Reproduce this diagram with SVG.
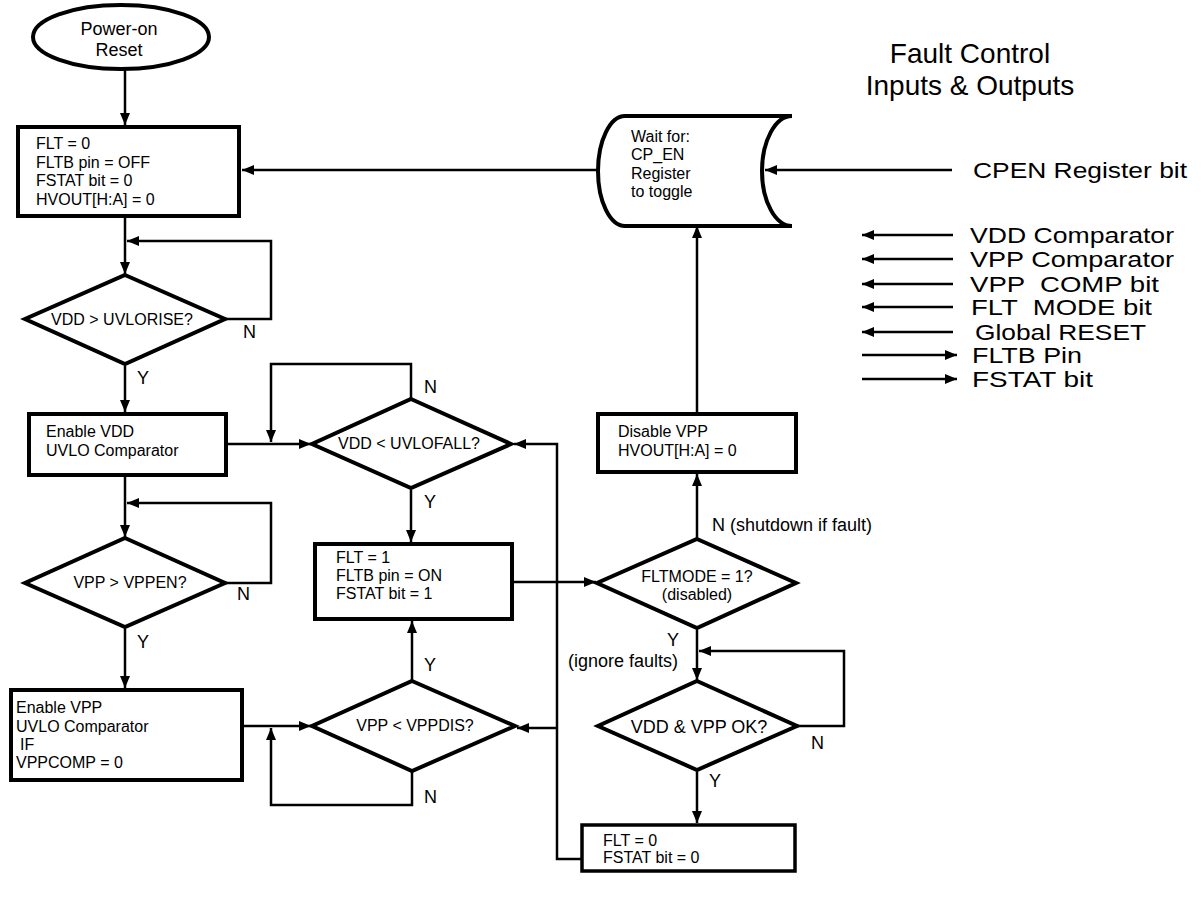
<svg xmlns="http://www.w3.org/2000/svg" width="1201" height="899" viewBox="0 0 1201 899">
<defs>
<style>
text{font-family:"Liberation Sans",Arial,sans-serif;fill:#000}
.t16{font-size:16px}
.t18{font-size:18px}
.lbl{font-size:18px}
.leg{font-size:22px}
.ttl{font-size:28px}
.node{fill:#fff;stroke:#000;stroke-width:4}
.dia{fill:#fff;stroke:#000;stroke-width:4;stroke-linejoin:miter}
.c{fill:none;stroke:#000;stroke-width:2.5}
.ca{fill:none;stroke:#000;stroke-width:2.5;marker-end:url(#ah)}
.mid{text-anchor:middle}
</style>
<marker id="ah" markerUnits="userSpaceOnUse" markerWidth="13" markerHeight="11" refX="12" refY="5" orient="auto">
<path d="M0,0 L12,5 L0,10 z" fill="#000"/>
</marker>
</defs>
<rect width="1201" height="899" fill="#fff"/>

<g id="connectors">
<line class="ca" x1="125" y1="70" x2="125" y2="125"/>
<line class="ca" x1="598" y1="170" x2="242" y2="170"/>
<line class="ca" x1="125" y1="218" x2="125" y2="274"/>
<polyline class="ca" points="225,319 271,319 271,241 127,241"/>
<line class="ca" x1="125" y1="366" x2="125" y2="412"/>
<line class="ca" x1="228" y1="444" x2="311" y2="444"/>
<polyline class="ca" points="411,399 411,364 271,364 271,442"/>
<line class="ca" x1="125" y1="477" x2="125" y2="537"/>
<polyline class="ca" points="225,583 271,583 271,503 127,503"/>
<line class="ca" x1="125" y1="629" x2="125" y2="688"/>
<line class="ca" x1="244" y1="726" x2="311" y2="726"/>
<polyline class="ca" points="412,771 412,805 271,805 271,728"/>
<line class="ca" x1="412" y1="680" x2="412" y2="621"/>
<line class="ca" x1="411" y1="490" x2="411" y2="542"/>
<line class="ca" x1="514" y1="582" x2="596" y2="582"/>
<line class="ca" x1="697" y1="538" x2="697" y2="474"/>
<line class="ca" x1="697" y1="412" x2="697" y2="226"/>
<line class="ca" x1="697" y1="630" x2="697" y2="680"/>
<polyline class="ca" points="797,726 844,726 844,651 699,651"/>
<line class="ca" x1="697" y1="772" x2="697" y2="823"/>
<polyline class="ca" points="588,859 557,859 557,444 514,444"/>
<line class="ca" x1="557" y1="728" x2="517" y2="728"/>
<line class="ca" x1="952" y1="170" x2="765" y2="170"/>
</g>

<g id="por">
<ellipse class="node" cx="121" cy="37" rx="88" ry="32"/>
<text class="t18 mid" x="119" y="35">Power-on</text>
<text class="t18 mid" x="119" y="56">Reset</text>
</g>

<g id="init">
<rect class="node" x="18" y="127" width="221" height="89"/>
<text class="t16" x="36" y="149">FLT = 0</text>
<text class="t16" x="36" y="168">FLTB pin = OFF</text>
<text class="t16" x="36" y="186">FSTAT bit = 0</text>
<text class="t16" x="36" y="205">HVOUT[H:A] = 0</text>
</g>

<g id="d-uvlorise">
<polygon class="dia" points="125,275 225,319 125,364 25,319"/>
<text class="t16 mid" x="122" y="325">VDD &gt; UVLORISE?</text>
<text class="lbl" x="243" y="338">N</text>
<text class="lbl" x="137" y="384">Y</text>
</g>

<g id="en-vdd">
<rect class="node" x="29" y="414" width="197" height="61"/>
<text class="t16" x="46" y="437">Enable VDD</text>
<text class="t16" x="46" y="456">UVLO Comparator</text>
</g>

<g id="d-uvlofall">
<polygon class="dia" points="411,399 511,444 411,488 312,444"/>
<text class="t16 mid" x="409" y="449">VDD &lt; UVLOFALL?</text>
<text class="lbl" x="424" y="393">N</text>
<text class="lbl" x="424" y="508">Y</text>
</g>

<g id="d-vppen">
<polygon class="dia" points="125,538 225,583 125,627 25,583"/>
<text class="t16 mid" x="130" y="588">VPP &gt; VPPEN?</text>
<text class="lbl" x="237" y="600">N</text>
<text class="lbl" x="137" y="648">Y</text>
</g>

<g id="en-vpp">
<rect class="node" x="11" y="690" width="231" height="90"/>
<text class="t16" x="16" y="713">Enable VPP</text>
<text class="t16" x="16" y="732">UVLO Comparator</text>
<text class="t16" x="20" y="750">IF</text>
<text class="t16" x="16" y="768">VPPCOMP = 0</text>
</g>

<g id="fault">
<rect class="node" x="315" y="544" width="197" height="75"/>
<text class="t16" x="336" y="563">FLT = 1</text>
<text class="t16" x="336" y="581">FLTB pin = ON</text>
<text class="t16" x="336" y="599">FSTAT bit = 1</text>
</g>

<g id="d-vppdis">
<polygon class="dia" points="412,681 515,726 412,771 312,726"/>
<text class="t16 mid" x="415" y="731">VPP &lt; VPPDIS?</text>
<text class="lbl" x="424" y="671">Y</text>
<text class="lbl" x="424" y="803">N</text>
</g>

<g id="d-fltmode">
<polygon class="dia" points="697,539 796,583 697,628 597,583"/>
<text class="t16 mid" x="697" y="582">FLTMODE = 1?</text>
<text class="t16 mid" x="697" y="600">(disabled)</text>
<text class="t18" x="712" y="531">N (shutdown if fault)</text>
<text class="lbl" x="667" y="646">Y</text>
<text class="t18" x="568" y="667">(ignore faults)</text>
</g>

<g id="disable-vpp">
<rect class="node" x="598" y="414" width="198" height="58"/>
<text class="t16" x="618" y="437">Disable VPP</text>
<text class="t16" x="618" y="456">HVOUT[H:A] = 0</text>
</g>

<g id="wait">
<path class="node" d="M625,116 L792,116 A30,55 0 0 0 792,226 L625,226 A27,55 0 0 1 625,116 Z"/>
<text class="t16" x="631" y="142">Wait for:</text>
<text class="t16" x="631" y="160">CP_EN</text>
<text class="t16" x="631" y="179">Register</text>
<text class="t16" x="631" y="197">to toggle</text>
</g>

<g id="d-ok">
<polygon class="dia" points="697,681 797,726 697,770 598,726"/>
<text class="t18 mid" x="699" y="733">VDD &amp; VPP OK?</text>
<text class="lbl" x="811" y="749">N</text>
<text class="lbl" x="709" y="787">Y</text>
</g>

<g id="clear">
<rect class="node" x="582" y="825" width="213" height="46" style="stroke-width:3.5"/>
<text class="t16" x="603" y="846">FLT = 0</text>
<text class="t16" x="603" y="863">FSTAT bit = 0</text>
</g>

<g id="legend">
<text class="ttl mid" x="970" y="63">Fault Control</text>
<text class="ttl mid" x="970" y="95">Inputs &amp; Outputs</text>
<text class="leg" x="973" y="178" textLength="214" lengthAdjust="spacingAndGlyphs">CPEN Register bit</text>
<line class="ca" x1="953" y1="235" x2="862" y2="235"/>
<text class="leg" x="970" y="243" textLength="204" lengthAdjust="spacingAndGlyphs">VDD Comparator</text>
<line class="ca" x1="953" y1="259" x2="862" y2="259"/>
<text class="leg" x="970" y="267" textLength="204" lengthAdjust="spacingAndGlyphs">VPP Comparator</text>
<line class="ca" x1="953" y1="284" x2="862" y2="284"/>
<text class="leg" x="970" y="292" xml:space="preserve" textLength="189" lengthAdjust="spacingAndGlyphs">VPP  COMP bit</text>
<line class="ca" x1="953" y1="307" x2="862" y2="307"/>
<text class="leg" x="971" y="315" xml:space="preserve" textLength="181" lengthAdjust="spacingAndGlyphs">FLT  MODE bit</text>
<line class="ca" x1="953" y1="332" x2="862" y2="332"/>
<text class="leg" x="975" y="340" textLength="171" lengthAdjust="spacingAndGlyphs">Global RESET</text>
<line class="ca" x1="862" y1="355" x2="957" y2="355"/>
<text class="leg" x="972" y="363" textLength="110" lengthAdjust="spacingAndGlyphs">FLTB Pin</text>
<line class="ca" x1="862" y1="379" x2="957" y2="379"/>
<text class="leg" x="972" y="387" textLength="121" lengthAdjust="spacingAndGlyphs">FSTAT bit</text>
</g>
</svg>
